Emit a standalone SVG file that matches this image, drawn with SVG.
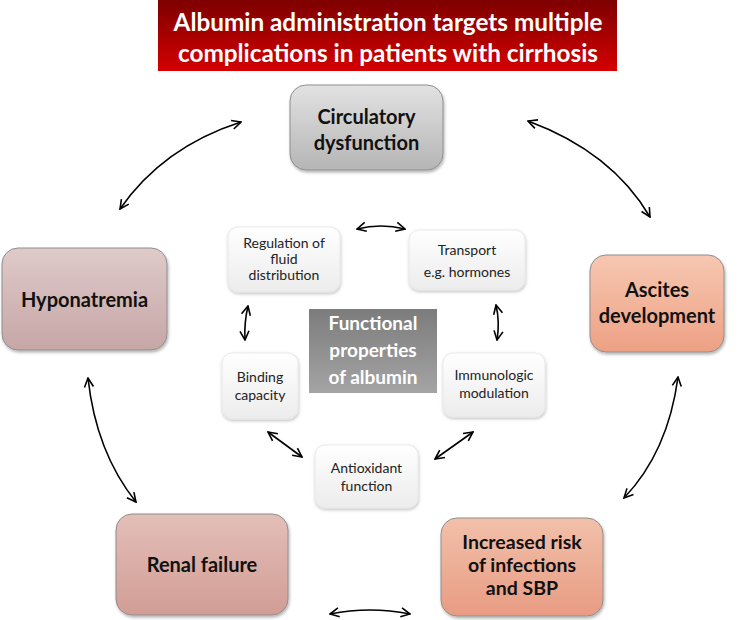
<svg xmlns="http://www.w3.org/2000/svg" width="753" height="620" viewBox="0 0 753 620">
<style>
.big{font-family:Lato,"Liberation Sans",sans-serif;font-weight:bold;font-size:20px;fill:#111;text-anchor:middle}
.small{font-family:Lato,"Liberation Sans",sans-serif;font-size:14px;fill:#222;text-anchor:middle}
.title{font-family:Lato,"Liberation Sans",sans-serif;font-weight:bold;font-size:24.3px;fill:#fff;text-anchor:middle}
.center{font-family:Lato,"Liberation Sans",sans-serif;font-weight:bold;font-size:19px;fill:#fff;text-anchor:middle}
.bigbox{stroke:#8e8e8e;stroke-width:1;filter:url(#sh)}
.sbox{fill:url(#gw);stroke:#e4e4e4;stroke-width:0.8;filter:url(#sh2)}
.arr{fill:none;stroke:#000;stroke-width:1.6;marker-start:url(#ah);marker-end:url(#ah)}
</style>
<defs>
<linearGradient id="gt" x1="0" y1="0" x2="0" y2="1"><stop offset="0" stop-color="#7e0000"/><stop offset="1" stop-color="#d40000"/></linearGradient>
<linearGradient id="gg" x1="0" y1="0" x2="0" y2="1"><stop offset="0" stop-color="#e2e2e2"/><stop offset="1" stop-color="#b5b5b5"/></linearGradient>
<linearGradient id="gh" x1="0" y1="0" x2="0" y2="1"><stop offset="0" stop-color="#dfcaca"/><stop offset="1" stop-color="#c7a6a6"/></linearGradient>
<linearGradient id="ga" x1="0" y1="0" x2="0" y2="1"><stop offset="0" stop-color="#f7c7b2"/><stop offset="1" stop-color="#eda184"/></linearGradient>
<linearGradient id="gr" x1="0" y1="0" x2="0" y2="1"><stop offset="0" stop-color="#e3bfb8"/><stop offset="1" stop-color="#d19d95"/></linearGradient>
<linearGradient id="gi" x1="0" y1="0" x2="0" y2="1"><stop offset="0" stop-color="#f2c0aa"/><stop offset="1" stop-color="#e89c83"/></linearGradient>
<linearGradient id="gc" x1="0" y1="0" x2="0" y2="1"><stop offset="0" stop-color="#7c7c7c"/><stop offset="1" stop-color="#a4a4a4"/></linearGradient>
<linearGradient id="gw" x1="0" y1="0" x2="0" y2="1"><stop offset="0" stop-color="#ffffff"/><stop offset="1" stop-color="#ececec"/></linearGradient>
<filter id="sh" x="-10%" y="-10%" width="125%" height="130%"><feDropShadow dx="1" dy="2" stdDeviation="1.5" flood-color="#000" flood-opacity="0.3"/></filter>
<filter id="sh2" x="-10%" y="-10%" width="125%" height="130%"><feDropShadow dx="0.5" dy="1.5" stdDeviation="1.5" flood-color="#000" flood-opacity="0.25"/></filter>
<marker id="ah" viewBox="0 0 12 12" refX="11" refY="6" markerWidth="12" markerHeight="12" markerUnits="userSpaceOnUse" orient="auto-start-reverse">
<path d="M2,1.5 L11,6 L2,10.5" fill="none" stroke="#000" stroke-width="1.6"/>
</marker>
</defs>

<g id="title">
<rect x="158" y="0" width="459" height="71" fill="url(#gt)"/>
<text class="title" x="388" y="31">Albumin administration targets multiple</text>
<text class="title" x="388" y="62">complications in patients with cirrhosis</text>
</g>

<g id="circulatory">
<rect class="bigbox" x="290" y="85" width="153" height="85" rx="16" fill="url(#gg)"/>
<text class="big" x="366.5" y="124">Circulatory</text>
<text class="big" x="366.5" y="150">dysfunction</text>
</g>

<g id="hyponatremia">
<rect class="bigbox" x="2" y="248" width="165" height="102" rx="16" fill="url(#gh)"/>
<text class="big" x="84.5" y="307">Hyponatremia</text>
</g>

<g id="ascites">
<rect class="bigbox" x="590" y="255" width="134" height="97" rx="16" fill="url(#ga)"/>
<text class="big" x="657" y="297">Ascites</text>
<text class="big" x="657" y="323">development</text>
</g>

<g id="renal">
<rect class="bigbox" x="116" y="514" width="172" height="101" rx="16" fill="url(#gr)"/>
<text class="big" x="202" y="572">Renal failure</text>
</g>

<g id="infections">
<rect class="bigbox" x="441" y="518" width="162" height="98" rx="16" fill="url(#gi)"/>
<text class="big" x="522" y="549" style="font-size:19.5px">Increased risk</text>
<text class="big" x="522" y="572" style="font-size:19.5px">of infections</text>
<text class="big" x="522" y="595" style="font-size:19.5px">and SBP</text>
</g>

<g id="functional">
<rect x="309" y="309" width="128" height="84" fill="url(#gc)"/>
<text class="center" x="373" y="330">Functional</text>
<text class="center" x="373" y="357">properties</text>
<text class="center" x="373" y="384">of albumin</text>
</g>

<g id="regulation">
<rect class="sbox" x="228" y="227" width="112" height="65" rx="10"/>
<text class="small" x="284" y="248">Regulation of</text>
<text class="small" x="284" y="264">fluid</text>
<text class="small" x="284" y="280">distribution</text>
</g>

<g id="transport">
<rect class="sbox" x="409" y="230" width="116" height="60" rx="10"/>
<text class="small" x="467" y="255">Transport</text>
<text class="small" x="467" y="277">e.g. hormones</text>
</g>

<g id="binding">
<rect class="sbox" x="222" y="353" width="76" height="66" rx="10"/>
<text class="small" x="260" y="382">Binding</text>
<text class="small" x="260" y="400">capacity</text>
</g>

<g id="immunologic">
<rect class="sbox" x="443" y="353" width="102" height="64" rx="10"/>
<text class="small" x="494" y="380">Immunologic</text>
<text class="small" x="494" y="398">modulation</text>
</g>

<g id="antioxidant">
<rect class="sbox" x="315" y="445" width="103" height="63" rx="10"/>
<text class="small" x="366.5" y="473">Antioxidant</text>
<text class="small" x="366.5" y="491">function</text>
</g>

<g id="connectors">
<path class="arr" d="M120,209 Q163,147 241,122"/>
<path class="arr" d="M528,121 Q612,152 650,217"/>
<path class="arr" d="M88,378 Q96,452 136,502"/>
<path class="arr" d="M678,377 Q668,452 624,498"/>
<path class="arr" d="M330,614 Q370,606 410,614"/>
<path class="arr" d="M357,229 Q381,223 405,229"/>
<path class="arr" d="M248,306 Q244,323 245,340"/>
<path class="arr" d="M496,305 Q500,322 497,340"/>
<path class="arr" d="M268,432 L302,457"/>
<path class="arr" d="M435,459 L473,432"/>
</g>
</svg>
